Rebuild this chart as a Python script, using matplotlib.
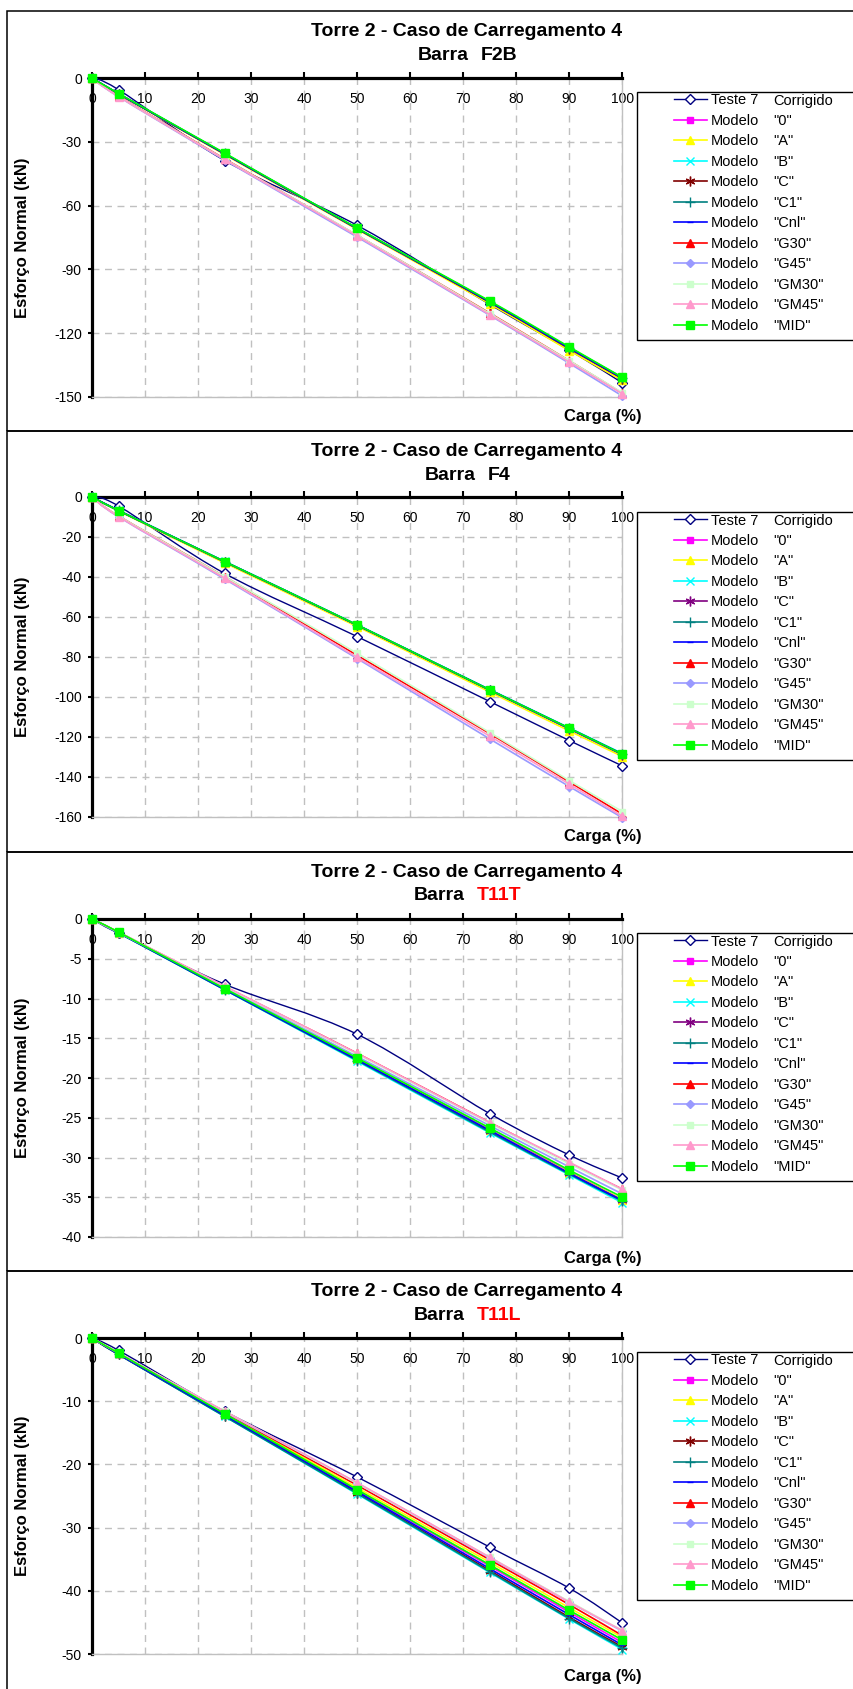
import numpy as np
import matplotlib
matplotlib.use('Agg')
import matplotlib.pyplot as plt
from matplotlib.path import Path
from matplotlib.patches import PathPatch, Rectangle
from matplotlib.lines import Line2D

plt.rcParams['font.family'] = ['Liberation Sans', 'DejaVu Sans']
plt.rcParams['axes.unicode_minus'] = False

# Load (%) at each step
carga = [0, 5, 25, 50, 75, 90, 100]

# legend: first column / second column
series_left = ['Teste 7'] + ['Modelo'] * 11
series_right = ['Corrigido', '"0"', '"A"', '"B"', '"C"', '"C1"', '"Cnl"',
                '"G30"', '"G45"', '"GM30"', '"GM45"', '"MID"']

# rows: Teste 7, 0, A, B, C, C1, Cnl, G30, G45, GM30, GM45, MID  (kN)
f2b = [
    [0, -5.5, -38.8, -69.3, -106.5, -128.0, -143.4],
    [0, -7.4, -35.6, -70.8, -105.4, -127.0, -141.2],
    [0, -7.5, -36.0, -71.2, -106.2, -128.2, -142.2],
    [0, -7.4, -35.5, -70.7, -105.2, -126.8, -141.0],
    [0, -7.5, -35.7, -70.9, -105.5, -127.2, -141.4],
    [0, -7.4, -35.5, -70.7, -105.2, -126.8, -141.0],
    [0, -7.4, -35.6, -70.8, -105.3, -127.0, -141.1],
    [0, -8.5, -38.0, -74.0, -110.6, -133.0, -148.3],
    [0, -8.8, -38.6, -74.8, -111.6, -134.2, -149.6],
    [0, -8.6, -38.1, -73.9, -110.8, -133.0, -148.0],
    [0, -8.7, -38.3, -74.3, -111.3, -133.6, -148.5],
    [0, -7.3, -35.3, -70.6, -104.9, -126.5, -140.8],
]

f4 = [
    [0, -4.5, -38.2, -69.8, -102.3, -121.8, -134.5],
    [0, -6.8, -32.4, -64.2, -96.7, -116.0, -129.0],
    [0, -7.0, -33.0, -64.8, -97.5, -117.0, -129.8],
    [0, -6.7, -32.2, -63.9, -96.3, -115.5, -128.3],
    [0, -6.8, -32.4, -64.1, -96.6, -115.9, -128.8],
    [0, -6.7, -32.3, -64.0, -96.4, -115.6, -128.5],
    [0, -6.8, -32.3, -64.1, -96.5, -115.8, -128.7],
    [0, -9.5, -39.8, -79.2, -118.3, -142.5, -158.6],
    [0, -9.9, -41.0, -80.8, -121.0, -144.8, -160.4],
    [0, -9.5, -39.8, -78.2, -117.8, -141.8, -157.3],
    [0, -9.8, -40.6, -80.2, -119.6, -143.6, -159.7],
    [0, -6.8, -32.3, -64.0, -96.5, -115.7, -128.7],
]

t11t = [
    [0, -1.8, -8.2, -14.5, -24.5, -29.7, -32.6],
    [0, -1.7, -8.8, -17.6, -26.5, -31.8, -35.3],
    [0, -1.7, -8.8, -17.6, -26.6, -31.9, -35.3],
    [0, -1.75, -8.9, -17.9, -26.9, -32.2, -35.7],
    [0, -1.7, -8.8, -17.7, -26.7, -32.0, -35.4],
    [0, -1.75, -8.9, -17.8, -26.8, -32.1, -35.5],
    [0, -1.7, -8.85, -17.7, -26.6, -32.0, -35.4],
    [0, -1.65, -8.5, -16.9, -25.6, -30.7, -34.0],
    [0, -1.7, -8.6, -17.3, -26.0, -31.2, -34.6],
    [0, -1.65, -8.5, -17.0, -25.7, -30.8, -34.1],
    [0, -1.65, -8.45, -16.9, -25.6, -30.6, -34.0],
    [0, -1.65, -8.75, -17.5, -26.3, -31.6, -35.0],
]

t11l = [
    [0, -1.95, -11.6, -22.0, -33.1, -39.6, -45.1],
    [0, -2.5, -12.1, -24.1, -36.1, -43.4, -48.2],
    [0, -2.4, -11.9, -23.7, -35.5, -42.7, -47.4],
    [0, -2.6, -12.4, -24.7, -37.1, -44.5, -49.3],
    [0, -2.6, -12.3, -24.5, -36.8, -44.2, -48.9],
    [0, -2.6, -12.4, -24.6, -37.0, -44.4, -49.1],
    [0, -2.55, -12.2, -24.3, -36.5, -43.8, -48.6],
    [0, -2.4, -11.8, -23.3, -35.1, -42.2, -47.1],
    [0, -2.4, -11.7, -23.0, -34.8, -41.8, -46.4],
    [0, -2.35, -11.6, -23.0, -34.7, -41.7, -46.3],
    [0, -2.35, -11.6, -22.9, -34.7, -41.8, -46.3],
    [0, -2.4, -12.0, -24.0, -35.9, -43.1, -47.8],
]

panel_data = [f2b, f4, t11t, t11l]
barra_names = ['F2B', 'F4', 'T11T', 'T11L']
barra_colors = ['black', 'black', 'red', 'red']
y_mins = [-150, -160, -40, -50]
y_steps = [30, 20, 5, 10]

# styles
colors = ['#000080', '#FF00FF', '#FFFF00', '#00FFFF', '#800000', '#008080',
          '#0000FF', '#FF0000', '#9999FF', '#CCFFCC', '#FF99CC', '#00FF00']
c_colors = ['#800000', '#800080', '#800080', '#800000']
markers = ['D', 's', '^', 'x', (6, 2, 0), '+', '_', '^', 'D', 's', '^', 's']
msizes = [5.6, 5, 6, 6, 7, 7, 4, 6, 4, 5, 6, 5.3]

W, H = 854, 1689
fig = plt.figure(figsize=(W / 100, H / 100), dpi=100)


def fx(x):
    return x / W


def fy(y):
    return 1 - y / H


def smooth_path(x, y):
    # Excel-like smoothed line (Bezier through the points)
    pts = np.column_stack([x, y]).astype(float)
    n = len(pts)
    verts = [pts[0]]
    codes = [Path.MOVETO]
    for i in range(n - 1):
        p0 = pts[max(i - 1, 0)]
        p1 = pts[i]
        p2 = pts[i + 1]
        p3 = pts[min(i + 2, n - 1)]
        verts += [p1 + (p2 - p0) / 6, p2 - (p3 - p1) / 6, p2]
        codes += [Path.CURVE4] * 3
    return Path(verts, codes)


panel_tops = [11, 431, 852, 1271]
axes_ys = [(78, 397), (497, 817), (919, 1237), (1338, 1654)]
legends = []
subtitles = []

for k in range(4):
    top = panel_tops[k]
    ya, yb = axes_ys[k]
    bottom = panel_tops[k + 1] if k < 3 else H + 20

    # panel border
    fig.add_artist(Rectangle((fx(7), fy(bottom)), fx(900) - fx(7), (bottom - top) / H,
                             transform=fig.transFigure, fill=False, ec='black', lw=1.1))

    ax = fig.add_axes([fx(92), fy(yb), fx(622.5) - fx(92), (yb - ya) / H])
    cols = list(colors)
    cols[4] = c_colors[k]
    handles = []
    for i, vals in enumerate(panel_data[k]):
        lw = 1.0 if i == 0 else 1.2
        mfc = 'white' if i == 0 else cols[i]
        ax.add_patch(PathPatch(smooth_path(carga, vals), fill=False, ec=cols[i], lw=lw,
                               zorder=3 + i * 0.01, clip_on=False))
        ax.plot(carga, vals, ls='none', marker=markers[i], ms=msizes[i], mfc=mfc,
                mec=cols[i], mew=1.0, zorder=3 + i * 0.01 + 0.005, clip_on=False)
        handles.append(Line2D([], [], color=cols[i], lw=lw, marker=markers[i],
                              ms=msizes[i], mfc=mfc, mec=cols[i], mew=1.0))

    ax.set_xlim(0, 100)
    ax.set_ylim(y_mins[k], 0)
    ax.set_xticks(np.arange(0, 101, 10))
    ax.set_yticks(np.arange(y_mins[k], 1, y_steps[k]))
    ax.set_axisbelow(True)
    ax.grid(True, color='#C0C0C0', linestyle=(0, (5, 4)), lw=1)
    for s in ['top', 'left']:
        ax.spines[s].set_color('black')
        ax.spines[s].set_linewidth(2.3)
        ax.spines[s].set_zorder(2.5)
    for s in ['right', 'bottom']:
        ax.spines[s].set_color('#C0C0C0')
        ax.spines[s].set_linewidth(1)
    ax.tick_params(axis='x', top=True, bottom=False, labeltop=True, labelbottom=False,
                   direction='out', length=4.5, width=1.5, pad=-25, labelsize=10)
    ax.tick_params(axis='y', direction='out', length=3, width=1.5, pad=4.3, labelsize=10)

    # titles
    fig.text(fx(467), fy(top + 20), 'Torre 2 - Caso de Carregamento 4', ha='center',
             va='center', fontsize=14, fontweight='bold')
    t1 = fig.text(0, fy(top + 44), 'Barra', ha='left', va='center', fontsize=14,
                  fontweight='bold')
    t2 = fig.text(0, fy(top + 44), barra_names[k], ha='left', va='center', fontsize=14,
                  fontweight='bold', color=barra_colors[k])
    subtitles.append((t1, t2))

    fig.text(fx(23), fy((ya + yb) / 2), 'Esforço Normal (kN)', rotation=90, ha='center',
             va='center', fontsize=12, fontweight='bold')
    fig.text(fx(603), fy(top + 406), 'Carga (%)', ha='center', va='center', fontsize=12,
             fontweight='bold')

    # legend
    fig.add_artist(Rectangle((fx(637), fy(top + 329)), fx(900) - fx(637), 248 / H,
                             transform=fig.transFigure, fill=True, fc='white', ec='black',
                             lw=1, zorder=5))
    leg = fig.legend(handles, series_left, loc='upper left',
                     bbox_to_anchor=(fx(674), fy(top + 82.5)), bbox_transform=fig.transFigure,
                     frameon=False, borderpad=0, borderaxespad=0, handlelength=2.26,
                     handletextpad=0.27, labelspacing=0.445, fontsize=10.5)
    leg.set_zorder(10)
    legends.append(leg)

fig.canvas.draw()
renderer = fig.canvas.get_renderer()

for t1, t2 in subtitles:
    w1 = t1.get_window_extent(renderer).width
    w2 = t2.get_window_extent(renderer).width
    start = 468 - (w1 + 12 + w2) / 2
    t1.set_x(fx(start))
    t2.set_x(fx(start + w1 + 12))

for leg in legends:
    for t, right in zip(leg.get_texts(), series_right):
        bb = t.get_window_extent(renderer)
        fig.text(fx(773), (bb.y0 + bb.y1) / 2 / H, right, ha='left', va='center',
                 fontsize=10.5, zorder=11)

fig.savefig('out.png', dpi=100)
